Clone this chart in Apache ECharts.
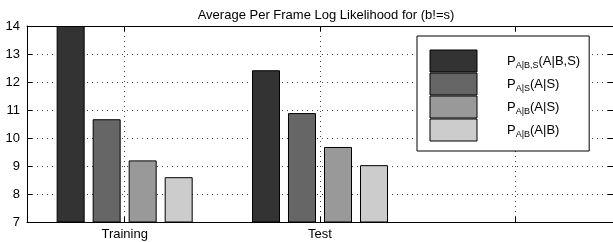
<!DOCTYPE html>
<html>
<head>
<meta charset="utf-8">
<script src="https://cdn.jsdelivr.net/npm/echarts@6/dist/echarts.min.js"></script>
<style>
  html, body { margin: 0; padding: 0; background: #fff; }
  #chart { width: 613px; height: 242px; }
</style>
</head>
<body>
<div id="chart"></div>
<script>
// data
const categories = ['Training', 'Test', ''];
const pABS = [14.0, 12.42];   // P_A|B,S(A|B,S)
const pAS = [10.67, 10.89];   // P_A|S(A|S)
const pABonS = [9.2, 9.68];   // P_A|B(A|S)
const pAB = [8.6, 9.03];      // P_A|B(A|B)
const yTicks = { min: 7, max: 14, step: 1 };

const seriesNames = ['P_A|B,S(A|B,S)', 'P_A|S(A|S)', 'P_A|B(A|S)', 'P_A|B(A|B)'];
const legendSub = ['A|B,S', 'A|S', 'A|B', 'A|B'];
const legendArg = ['(A|B,S)', '(A|S)', '(A|S)', '(A|B)'];
const colors = ['#333333', '#666666', '#999999', '#cccccc'];

// helper axis: 7 slots, odd ones sit on the category centres
const slots = ['', '1', '', '2', '', '3', ''];
const onCentre = (i) => i % 2 === 1;

const font = 'Liberation Sans, Arial, Helvetica, sans-serif';
const dotted = { color: '#444', width: 1, type: [1, 4] };

const chart = echarts.init(document.getElementById('chart'));

const option = {
  animation: false,
  textStyle: { fontFamily: font },
  title: {
    text: 'Average Per Frame Log Likelihood for (b!=s)',
    left: 321,
    textAlign: 'center',
    top: 4,
    textStyle: { fontSize: 13, fontWeight: 'normal', color: '#000', fontFamily: font }
  },
  grid: { left: 27, right: -2, top: 26, bottom: 20 },
  legend: {
    orient: 'vertical',
    left: 417,
    top: 36,
    itemWidth: 47,
    itemHeight: 22,
    itemGap: 0,
    icon: 'rect',
    selectedMode: false,
    backgroundColor: '#fff',
    borderColor: '#000',
    borderWidth: 1,
    borderRadius: 0,
    padding: [13.5, 9, 9.5, 12.5],
    itemStyle: { borderColor: '#000', borderWidth: 1 },
    data: seriesNames,
    formatter: function (name) {
      const i = seriesNames.indexOf(name);
      return '{p|P}{s|' + legendSub[i] + '}{p|' + legendArg[i] + '}';
    },
    textStyle: {
      color: '#000',
      fontFamily: font,
      padding: [0, 0, 0, 25],
      rich: {
        p: { fontSize: 13, color: '#000', fontFamily: font },
        s: { fontSize: 9, color: '#000', fontFamily: font, padding: [10, 0, 0, 0] }
      }
    }
  },
  xAxis: [
    {
      type: 'category',
      data: categories,
      position: 'bottom',
      axisLine: { show: true, lineStyle: { color: '#000', width: 1 } },
      axisTick: { show: false },
      axisLabel: { color: '#000', fontSize: 13, margin: 6, fontFamily: font },
      splitLine: { show: false }
    },
    {
      type: 'category',
      data: slots,
      boundaryGap: false,
      position: 'bottom',
      axisLine: { show: false },
      axisTick: { show: true, inside: true, length: 5, interval: onCentre, lineStyle: { color: '#000' } },
      axisLabel: { show: false },
      splitLine: { show: true, interval: onCentre, lineStyle: dotted }
    },
    {
      type: 'category',
      data: slots,
      boundaryGap: false,
      position: 'top',
      axisLine: { show: true, lineStyle: { color: '#000', width: 1 } },
      axisTick: { show: true, inside: true, length: 5, interval: onCentre, lineStyle: { color: '#000' } },
      axisLabel: { show: false },
      splitLine: { show: false }
    }
  ],
  yAxis: [
    {
      type: 'value',
      min: yTicks.min,
      max: yTicks.max,
      interval: yTicks.step,
      position: 'left',
      axisLine: { show: true, lineStyle: { color: '#000', width: 1 } },
      axisTick: { show: true, inside: true, length: 5, lineStyle: { color: '#000' } },
      axisLabel: { color: '#000', fontSize: 13, margin: 7, fontFamily: font },
      splitLine: { show: true, lineStyle: dotted }
    },
    {
      type: 'value',
      min: yTicks.min,
      max: yTicks.max,
      interval: yTicks.step,
      position: 'right',
      axisLine: { show: true, lineStyle: { color: '#000', width: 1 } },
      axisTick: { show: true, inside: true, length: 5, lineStyle: { color: '#000' } },
      axisLabel: { show: false },
      splitLine: { show: false }
    }
  ],
  series: [pABS, pAS, pABonS, pAB].map((vals, i) => ({
    name: seriesNames[i],
    type: 'bar',
    xAxisIndex: 0,
    yAxisIndex: 0,
    barWidth: 28,
    barGap: '28.6%',
    data: vals,
    itemStyle: { color: colors[i], borderColor: '#000', borderWidth: 1 }
  }))
};

chart.setOption(option);
</script>
</body>
</html>
